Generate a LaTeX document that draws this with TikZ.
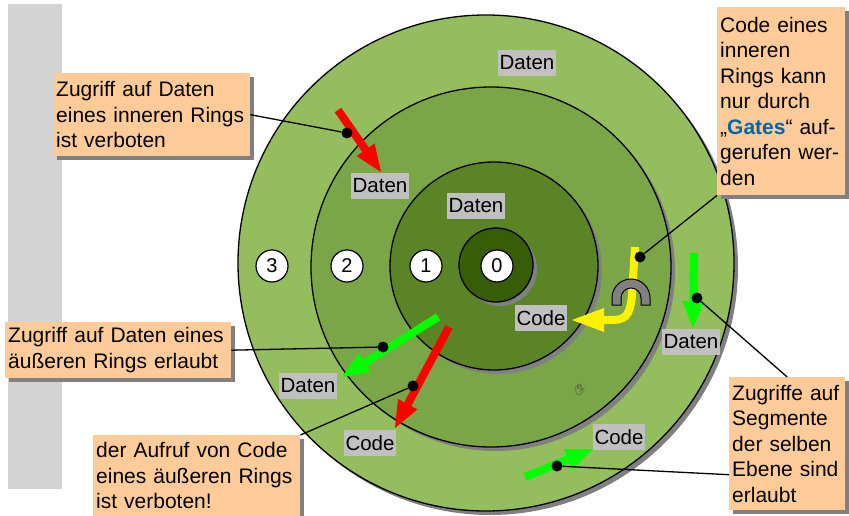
\documentclass[tikz,border=0pt]{standalone}
\usepackage{fontspec}
\setmainfont{Liberation Sans}
\newfontfamily\emojifont{Noto Emoji}
\usetikzlibrary{arrows.meta,shadows}
\definecolor{barGray}{RGB}{211,211,211}
\definecolor{ringThree}{RGB}{148,189,94}
\definecolor{ringTwo}{RGB}{123,166,72}
\definecolor{ringOne}{RGB}{91,132,39}
\definecolor{ringZero}{RGB}{55,93,8}
\definecolor{peach}{RGB}{255,204,153}
\definecolor{lblGray}{RGB}{192,192,192}
\definecolor{gateBlue}{RGB}{0,102,170}
\tikzset{
  callout/.style={fill=peach, anchor=north west, align=left, inner xsep=3pt, inner ysep=2pt,
    font=\fontsize{21}{25.5}\selectfont,
    drop shadow={shadow xshift=4pt, shadow yshift=-4pt, fill=gray, opacity=1}},
  lbl/.style={fill=lblGray, inner xsep=1.5pt, inner ysep=0pt, minimum height=26pt,
    font=\fontsize{20.5}{20.5}\selectfont},
  num/.style={circle, draw=black, fill=white, line width=1.2pt, minimum size=32pt,
    inner sep=0pt, font=\fontsize{20}{20}\selectfont},
  dot/.style={circle, fill=black, inner sep=0pt, minimum size=11pt},
  bigarrow/.style={line width=8pt, -{Triangle[length=27pt,width=22pt,line width=0pt]}},
  pointer/.style={line width=1.3pt},
}
\begin{document}
\begin{tikzpicture}[x=1pt,y=-1pt]
        \useasboundingbox (0,0) rectangle (849,516);
        \fill[barGray] (8,4) rectangle (62,489);
        % rings with their shadows, outside in
        \foreach \cx/\cy/\r/\col in {486/263/248/ringThree, 491/267/180/ringTwo, 494/266/104/ringOne, 496/265/37/ringZero} {
            \fill[gray] (\cx+4,\cy+4) circle[radius=\r];
            \filldraw[fill=\col, line width=1.3pt] (\cx,\cy) circle[radius=\r];
        }
        \foreach \n/\x in {3/272, 2/347, 1/426, 0/497} {
            \node[num] (n\n) at (\x,266) {\n};
        }
        % call through the gate
        \draw[yellow, line width=8pt, -{Triangle[length=32pt,width=24pt,line width=0pt]}]
            (635,247) -- (632,295) .. controls (630,318) and (624,320) .. (610,320) -- (572,320);
        \filldraw[fill=gray, line width=1pt] (612,305) -- (612,298) arc[start angle=180, end angle=360, radius=19]
            -- (650,305) -- (641,305) -- (641,298) arc[start angle=360, end angle=180, radius=10] -- (621,305) -- cycle;
        % accesses
        \draw[bigarrow, red] (338,110) -- (381,172);
        \draw[bigarrow, green] (438,317) -- (342,377);
        \draw[bigarrow, red] (449,327) -- (395,428);
        \draw[bigarrow, green] (694,253) -- (693,328);
        \draw[bigarrow, green] (525,477) -- (593,449);
        \node[lbl] (datTop) at (527,63) {Daten};
        \node[lbl] (datTwo) at (380,186) {Daten};
        \node[lbl] (datOne) at (476,206) {Daten};
        \node[lbl] (codeGate) at (541,318) {Code};
        \node[lbl] (datRight) at (691,342) {Daten};
        \node[lbl] (codeRight) at (619,437) {Code};
        \node[lbl] (datLeft) at (308,386) {Daten};
        \node[lbl] (codeLeft) at (370,443) {Code};
        \node[text=darkgray, font=\emojifont\fontsize{11}{11}\selectfont] (hand) at (580,390) {✋};
        % callouts
        \node[callout, text width=191pt, minimum height=83pt] (c1) at (53,73)
            {Zugriff auf Daten\\eines inneren Rings\\ist verboten};
        \node[callout, text width=122pt, minimum height=188pt] (c2) at (717,7)
            {Code eines\\inneren\\Rings kann\\nur durch\\„{\bfseries\color{gateBlue}Gates}“ auf-\\gerufen wer-\\den};
        \node[callout, text width=220pt, minimum height=56pt] (c3) at (5,322)
            {Zugriff auf Daten eines\\äußeren Rings erlaubt};
        \node[callout, text width=201pt, minimum height=81pt] (c4) at (93,435)
            {der Aufruf von Code\\eines äußeren Rings\\ist verboten!};
        \node[callout, text width=110pt, minimum height=133pt] (c5) at (729,377)
            {Zugriffe auf\\Segmente\\der selben\\Ebene sind\\erlaubt};
        \node[dot] (d1) at (347,133) {};
        \node[dot] (d2) at (640,257) {};
        \node[dot] (d3) at (383,347) {};
        \node[dot] (d4) at (413,386) {};
        \node[dot] (d5) at (697,298) {};
        \node[dot] (d6) at (557,466) {};
        \draw[pointer] (c1.east) -- (d1);
        \draw[pointer] (c2.south west) -- (d2);
        \draw[pointer] (c3.east) -- (d3);
        \draw[pointer] (c4.north east) -- (d4);
        \draw[pointer] (c5.north) -- (d5);
        \draw[pointer] ([yshift=-31pt]c5.west) -- (d6);
    \end{tikzpicture}
\end{document}
